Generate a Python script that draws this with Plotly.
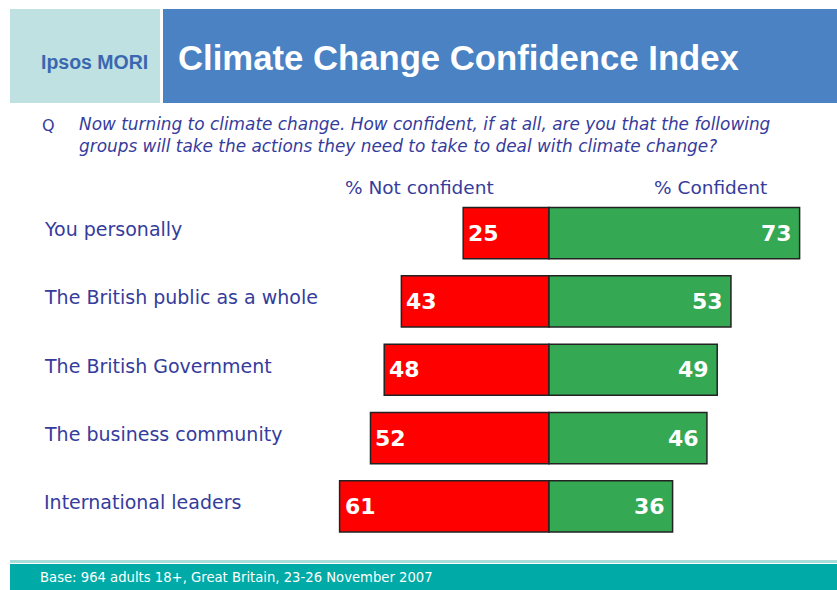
import plotly.graph_objects as go

# Survey results (Ipsos MORI, Nov 2007)
groups = [
    "You personally",
    "The British public as a whole",
    "The British Government",
    "The business community",
    "International leaders",
]
not_confident = [25, 43, 48, 52, 61]
confident = [73, 53, 49, 46, 36]

W, H = 837, 590
RED = "#ff0000"
GREEN = "#34a853"
TEXT_BLUE = "#353c9c"
SANS = "Liberation Sans, Arial, sans-serif"
WIDE = "DejaVu Sans, Verdana, sans-serif"

fig = go.Figure()

fig.add_trace(go.Bar(
    y=groups, x=[-v for v in not_confident], base=0, orientation="h",
    marker=dict(color=RED, line=dict(color="#222222", width=1.5)),
    width=0.75, hoverinfo="skip", showlegend=False,
))
fig.add_trace(go.Bar(
    y=groups, x=confident, base=0, orientation="h",
    marker=dict(color=GREEN, line=dict(color="#222222", width=1.5)),
    width=0.75, hoverinfo="skip", showlegend=False,
))

annotations = []
for g, nc, c in zip(groups, not_confident, confident):
    annotations.append(dict(
        x=-nc, y=g, xref="x", yref="y", text=f"<b>{nc}</b>", showarrow=False,
        xanchor="left", xshift=3, font=dict(family=WIDE, size=22, color="white"),
    ))
    annotations.append(dict(
        x=c, y=g, xref="x", yref="y", text=f"<b>{c}</b>", showarrow=False,
        xanchor="right", xshift=-6, font=dict(family=WIDE, size=22, color="white"),
    ))
    # category labels on the left
    annotations.append(dict(
        x=42 / W, y=g, xref="paper", yref="y", text=g, showarrow=False,
        xanchor="left", yshift=4, font=dict(family=WIDE, size=19, color=TEXT_BLUE),
    ))


def px_y(py):
    return 1 - py / H


question = ("Now turning to climate change. How confident, if at all, are you that the following"
            "<br>groups will take the actions they need to take to deal with climate change?")

# header labels
annotations += [
    dict(x=419 / W, y=px_y(188), xref="paper", yref="paper", text="% Not confident",
         showarrow=False, xanchor="center", yanchor="middle",
         font=dict(family=WIDE, size=18.5, color=TEXT_BLUE)),
    dict(x=710 / W, y=px_y(188), xref="paper", yref="paper", text="% Confident",
         showarrow=False, xanchor="center", yanchor="middle",
         font=dict(family=WIDE, size=18.5, color=TEXT_BLUE)),
    # title block
    dict(x=176 / W, y=px_y(58), xref="paper", yref="paper",
         text="<b>Climate Change Confidence Index</b>", showarrow=False,
         xanchor="left", yanchor="middle",
         font=dict(family=SANS, size=34.7, color="white")),
    dict(x=94 / W, y=px_y(62), xref="paper", yref="paper",
         text="<b>Ipsos MORI</b>", showarrow=False,
         xanchor="center", yanchor="middle",
         font=dict(family=SANS, size=19.5, color="#3a68b0")),
    # question
    dict(x=40 / W, y=px_y(125), xref="paper", yref="paper", text="Q",
         showarrow=False, xanchor="left", yanchor="middle",
         font=dict(family=WIDE, size=16, color=TEXT_BLUE)),
    dict(x=77 / W, y=px_y(134.5), xref="paper", yref="paper",
         text=f"<i>{question}</i>",
         showarrow=False, xanchor="left", yanchor="middle", align="left",
         font=dict(family=WIDE, size=16.9, color=TEXT_BLUE)),
    # footer
    dict(x=38 / W, y=px_y(577), xref="paper", yref="paper",
         text="Base: 964 adults 18+, Great Britain, 23-26 November 2007",
         showarrow=False, xanchor="left", yanchor="middle",
         font=dict(family=WIDE, size=13.2, color="white")),
]

shapes = [
    dict(type="rect", xref="paper", yref="paper", x0=10 / W, x1=160 / W,
         y0=px_y(103), y1=px_y(9), fillcolor="#bfe1e1", line=dict(width=0), layer="below"),
    dict(type="rect", xref="paper", yref="paper", x0=163 / W, x1=1,
         y0=px_y(103), y1=px_y(9), fillcolor="#4a82c4", line=dict(width=0), layer="below"),
    dict(type="rect", xref="paper", yref="paper", x0=10 / W, x1=1,
         y0=px_y(563), y1=px_y(560), fillcolor="#a8dcd9", line=dict(width=0), layer="below"),
    dict(type="rect", xref="paper", yref="paper", x0=10 / W, x1=1,
         y0=0, y1=px_y(564), fillcolor="#00aaa6", line=dict(width=0), layer="below"),
]

# zero line sits at pixel 549, ~3.433 px per percentage point
scale = 3.433
fig.update_layout(
    width=W, height=H,
    margin=dict(l=0, r=0, t=0, b=0),
    paper_bgcolor="white", plot_bgcolor="rgba(0,0,0,0)",
    barmode="overlay",
    xaxis=dict(range=[-549 / scale, (W - 549) / scale], domain=[0, 1],
               visible=False, fixedrange=True),
    yaxis=dict(domain=[px_y(540.5), px_y(199)], autorange="reversed",
               visible=False, fixedrange=True),
    annotations=annotations,
    shapes=shapes,
)

fig.write_html("out.html")
